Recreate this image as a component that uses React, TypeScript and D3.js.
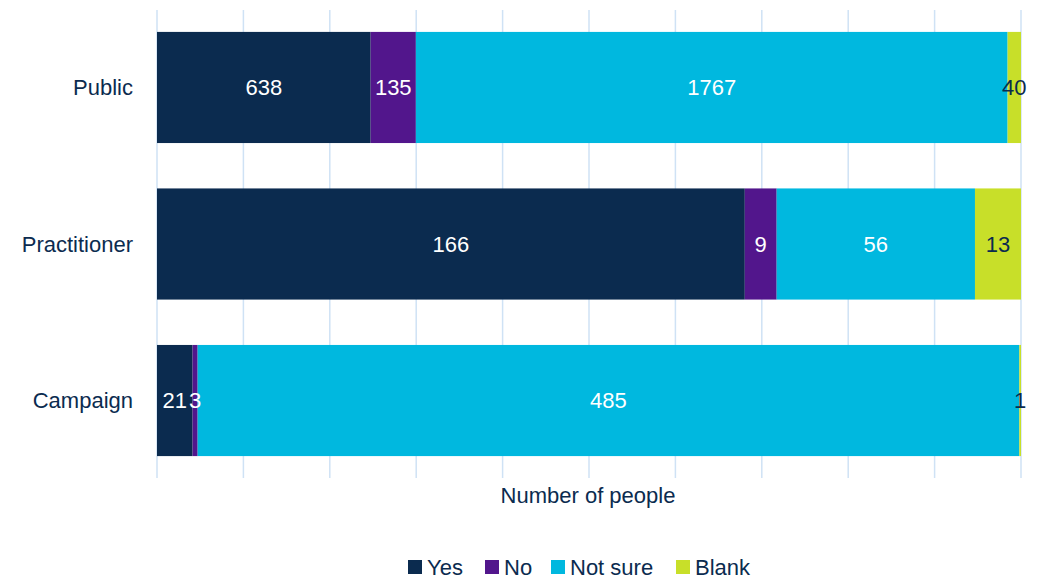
import React from "react";
import * as d3 from "d3";

const categories = ["Public", "Practitioner", "Campaign"];
const seriesNames = ["Yes", "No", "Not sure", "Blank"];
const yesValues = [638, 166, 21];
const noValues = [135, 9, 3];
const notSureValues = [1767, 56, 485];
const blankValues = [40, 13, 1];
const colors = ["#0b2b4f", "#52168c", "#00b8df", "#c8df29"];
const labelColors = ["#ffffff", "#ffffff", "#ffffff", "#0b2b4f"];
const gridTicks = d3.range(0, 1.0001, 0.1);

const W = 1038;
const H = 579;
const FONT = "'Liberation Sans', Arial, sans-serif";

export default function App() {
  const x = d3.scaleLinear().domain([0, 1]).range([157, 1021]);
  const y = d3.scaleBand<string>().domain(categories).range([10, 478]).paddingInner(0.29).paddingOuter(0.14);
  const all = [yesValues, noValues, notSureValues, blankValues];
  const rows = categories.map((c, i) => {
    const obj: any = { cat: c };
    const total = all.reduce((s, arr) => s + arr[i], 0);
    seriesNames.forEach((s, k) => (obj[s] = all[k][i] / total));
    obj.raw = all.map((a) => a[i]);
    return obj;
  });
  const stack = d3.stack<any>().keys(seriesNames)(rows);
  const legendX = [408, 485, 551, 676];

  return (
    <svg width={W} height={H} style={{ position: "absolute", left: 0, top: 0, background: "#fff" }}>
      {gridTicks.map((t, i) => (
        <line key={i} x1={x(t)} x2={x(t)} y1={10} y2={478} stroke="#cfe2f5" strokeWidth={1.5} />
      ))}
      {stack.map((layer, k) =>
        layer.map((d, i) => (
          <rect key={k + "-" + i} x={x(d[0])} y={y(categories[i])} width={x(d[1]) - x(d[0])} height={y.bandwidth()} fill={colors[k]} />
        ))
      )}
      {stack.map((layer, k) =>
        layer.map((d, i) => (
          <text key={"t" + k + "-" + i} x={(x(d[0]) + x(d[1])) / 2} y={(y(categories[i]) as number) + y.bandwidth() / 2} dy="0.36em"
            textAnchor="middle" fontFamily={FONT} fontSize={22} fill={labelColors[k]}>
            {rows[i].raw[k]}
          </text>
        ))
      )}
      {categories.map((c) => (
        <text key={c} x={133} y={(y(c) as number) + y.bandwidth() / 2} dy="0.36em" textAnchor="end" fontFamily={FONT} fontSize={22} fill="#0b2b4f">
          {c}
        </text>
      ))}
      <text x={588} y={503} textAnchor="middle" fontFamily={FONT} fontSize={22} fill="#0b2b4f">Number of people</text>
      {seriesNames.map((s, k) => (
        <g key={s}>
          <rect x={legendX[k]} y={560} width={14} height={14} fill={colors[k]} />
          <text x={legendX[k] + 19} y={575} fontFamily={FONT} fontSize={22} fill="#0b2b4f">{s}</text>
        </g>
      ))}
    </svg>
  );
}
